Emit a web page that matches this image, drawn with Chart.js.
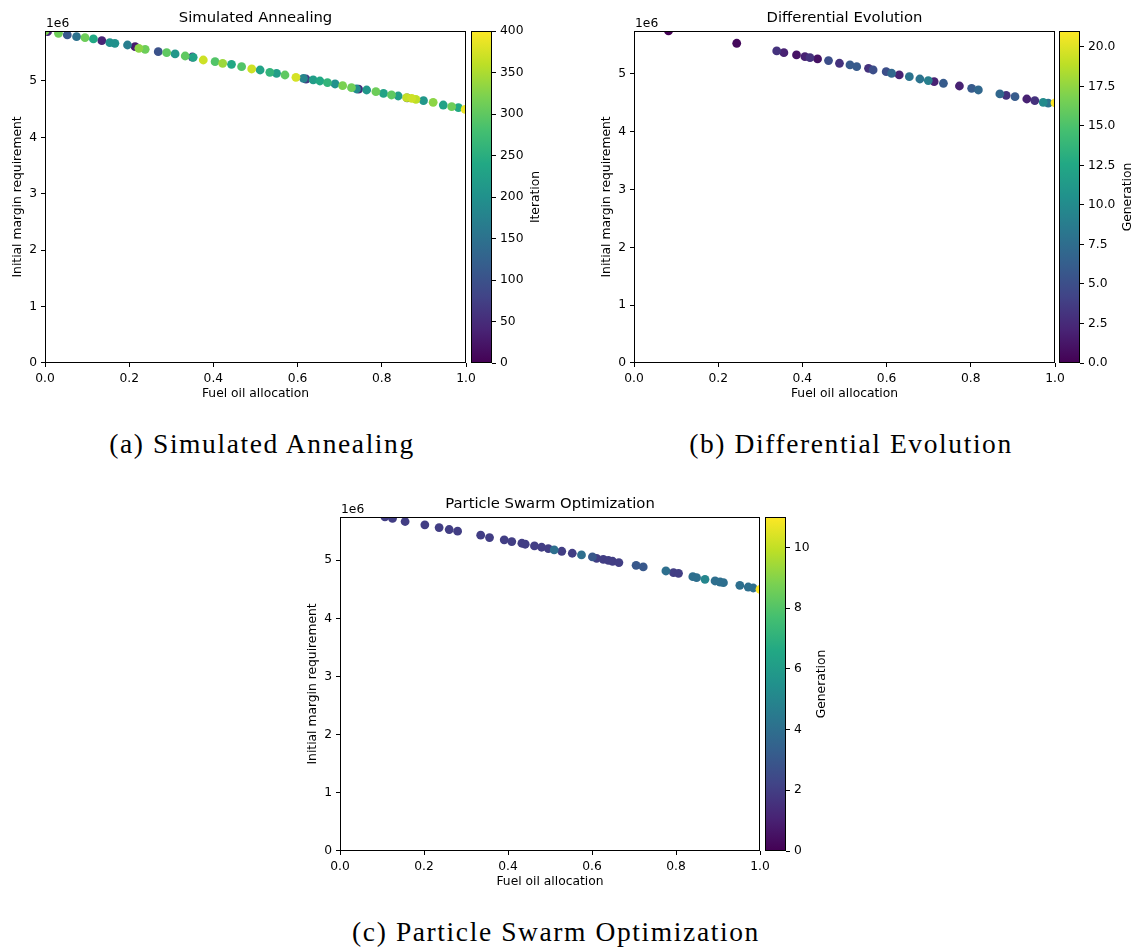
<!DOCTYPE html>
<html>
<head>
<meta charset="utf-8">
<script src="https://cdn.jsdelivr.net/npm/chart.js@4.4.1/dist/chart.umd.min.js"></script>
<style>
  body { margin: 0; background: #fff; width: 1139px; height: 951px; position: relative; overflow: hidden; }
  canvas { position: absolute; }
  .cap { position: absolute; font-family: "Liberation Serif", serif; font-size: 27.5px; line-height: 27px;
         letter-spacing: 1.6px; white-space: nowrap; transform: translateX(-50%); color: #000; }
</style>
</head>
<body>
<canvas id="sa" width="486" height="405" style="left:0px;top:0px"></canvas>
<canvas id="saBar" width="90" height="405" style="left:471px;top:0px"></canvas>
<canvas id="de" width="486" height="405" style="left:589px;top:0px"></canvas>
<canvas id="deBar" width="80" height="405" style="left:1059px;top:0px"></canvas>
<canvas id="pso" width="485" height="407" style="left:295px;top:486px"></canvas>
<canvas id="psoBar" width="80" height="407" style="left:765px;top:486px"></canvas>
<div class="cap" style="left:262px;top:430px">(a) Simulated Annealing</div>
<div class="cap" style="left:851px;top:430px">(b) Differential Evolution</div>
<div class="cap" style="left:556px;top:918px">(c) Particle Swarm Optimization</div>
<script>
// y values are in units of 1e6 (the axis shows the "1e6" offset)

// (a) Simulated Annealing
const saFuel = [0.000, 0.006, 0.032, 0.053, 0.075, 0.095, 0.115, 0.135, 0.154, 0.166, 0.196, 0.214, 0.223, 0.238,
  0.269, 0.289, 0.309, 0.333, 0.350, 0.352, 0.376, 0.404, 0.422, 0.443, 0.467, 0.491, 0.511, 0.534, 0.550, 0.570,
  0.596, 0.614, 0.620, 0.637, 0.653, 0.671, 0.689, 0.707, 0.728, 0.740, 0.745, 0.764, 0.786, 0.804, 0.823, 0.839,
  0.859, 0.860, 0.871, 0.881, 0.899, 0.922, 0.946, 0.966, 0.982, 0.998];
const saMargin = [5.887, 5.875, 5.845, 5.816, 5.786, 5.768, 5.745, 5.715, 5.680, 5.668, 5.638, 5.609, 5.579, 5.561,
  5.520, 5.502, 5.479, 5.443, 5.425, 5.420, 5.372, 5.343, 5.313, 5.296, 5.254, 5.213, 5.195, 5.154, 5.136, 5.106,
  5.065, 5.047, 5.035, 5.018, 5.000, 4.970, 4.947, 4.917, 4.882, 4.858, 4.855, 4.840, 4.811, 4.781, 4.752, 4.734,
  4.705, 4.702, 4.693, 4.675, 4.651, 4.622, 4.574, 4.545, 4.527, 4.498];
const saIter = [320, 40, 310, 110, 150, 310, 240, 40, 200, 200, 170, 30, 330, 310,
  100, 300, 210, 300, 60, 230, 370, 290, 340, 240, 290, 370, 230, 260, 220, 300,
  375, 180, 70, 220, 240, 260, 200, 320, 310, 190, 50, 210, 310, 230, 300, 220,
  365, 90, 370, 360, 210, 330, 230, 310, 240, 390];
const saIterMax = 400;
const saYMax = 5.887;

// (b) Differential Evolution
const deFuel = [0.082, 0.244, 0.339, 0.356, 0.386, 0.406, 0.418, 0.436, 0.462, 0.488, 0.513, 0.529, 0.557, 0.568,
  0.599, 0.612, 0.630, 0.654, 0.679, 0.699, 0.713, 0.735, 0.773, 0.802, 0.818, 0.869, 0.884, 0.905, 0.933, 0.952,
  0.972, 0.984, 1.000];
const deMargin = [5.744, 5.531, 5.398, 5.369, 5.329, 5.300, 5.282, 5.260, 5.231, 5.185, 5.156, 5.127, 5.098, 5.069,
  5.040, 5.012, 4.983, 4.954, 4.913, 4.885, 4.867, 4.839, 4.792, 4.752, 4.723, 4.654, 4.631, 4.608, 4.567, 4.539,
  4.510, 4.495, 4.500];
const deGen = [0, 0.5, 3, 2, 1, 2, 3, 1, 5, 3, 6, 6, 3, 5,
  5, 7, 2, 8, 8, 9, 2, 6, 2, 6, 7, 7, 3, 6, 2, 3,
  10, 8, 21];
const deGenMax = 21;
const deYMax = 5.744;

// (c) Particle Swarm Optimization
const psoFuel = [0.107, 0.125, 0.155, 0.202, 0.236, 0.260, 0.280, 0.335, 0.356, 0.391, 0.409, 0.433, 0.441, 0.463,
  0.480, 0.496, 0.510, 0.528, 0.553, 0.575, 0.601, 0.611, 0.627, 0.639, 0.649, 0.664, 0.705, 0.722, 0.776, 0.794,
  0.806, 0.840, 0.849, 0.869, 0.893, 0.905, 0.913, 0.952, 0.972, 0.984, 1.000];
const psoMargin = [5.745, 5.720, 5.667, 5.609, 5.563, 5.529, 5.500, 5.431, 5.391, 5.351, 5.322, 5.293, 5.276, 5.247,
  5.224, 5.201, 5.178, 5.155, 5.121, 5.092, 5.057, 5.034, 5.017, 5.000, 4.983, 4.960, 4.914, 4.885, 4.816, 4.787,
  4.776, 4.718, 4.700, 4.672, 4.644, 4.626, 4.615, 4.569, 4.540, 4.523, 4.500];
const psoGen = [2, 2, 2, 2, 2, 2, 2, 2, 2, 2, 2, 2, 2, 2,
  2, 2, 4, 2, 2, 4, 3, 2, 2, 2, 2, 2, 3, 3, 4, 2,
  2, 4, 4, 5, 4, 4, 4, 4, 4, 4, 11];
const psoGenMax = 11;
const psoYMax = 5.745;

const VIRIDIS = ['#440154', '#482475', '#414487', '#355f8d', '#2a788e', '#21918c',
  '#22a884', '#44bf70', '#7ad151', '#bddf26', '#fde725'];

function hexRgb(h) {
  return [1, 3, 5].map(k => parseInt(h.slice(k, k + 2), 16));
}

function viridis(t) {
  t = Math.min(1, Math.max(0, t)) * (VIRIDIS.length - 1);
  const i = Math.min(Math.floor(t), VIRIDIS.length - 2);
  const f = t - i;
  const a = hexRgb(VIRIDIS[i]), b = hexRgb(VIRIDIS[i + 1]);
  const c = a.map((v, k) => Math.round(v + (b[k] - v) * f));
  return `rgb(${c[0]},${c[1]},${c[2]})`;
}

Chart.defaults.color = '#000';
Chart.defaults.font.family = '"DejaVu Sans", sans-serif';
const FONT = { family: '"DejaVu Sans", sans-serif', size: 12.3 };

// axes frame, "1e6" offset text and the rotated colorbar label
const framePlugin = {
  id: 'frame',
  afterDraw(chart, args, opts) {
    const { ctx, chartArea: a } = chart;
    ctx.save();
    ctx.strokeStyle = '#000';
    ctx.lineWidth = 1;
    ctx.strokeRect(Math.round(a.left) + 0.5, Math.round(a.top) + 0.5,
      Math.round(a.width) - 1, Math.round(a.height) - 1);
    ctx.fillStyle = '#000';
    ctx.font = '12.3px "DejaVu Sans"';
    if (opts.offset) {
      ctx.textAlign = 'left';
      ctx.textBaseline = 'alphabetic';
      ctx.fillText(opts.offset, a.left + 1, a.top - 4);
    }
    if (opts.label) {
      const ticks = chart.scales.y.ticks;
      let w = 0;
      ticks.forEach(t => { w = Math.max(w, ctx.measureText(t.label).width); });
      ctx.translate(a.right + 8.6 + w + 12, (a.top + a.bottom) / 2);
      ctx.rotate(-Math.PI / 2);
      ctx.textAlign = 'center';
      ctx.textBaseline = 'middle';
      ctx.fillText(opts.label, 0, 0);
    }
    ctx.restore();
  }
};

function scatterPanel(id, title, fuel, margin, value, vmax, ymax, plotW) {
  const canvas = document.getElementById(id);
  // later (higher) iterations are drawn on top
  const order = fuel.map((_, i) => i).sort((i, j) => value[i] - value[j]);
  return new Chart(canvas, {
    type: 'scatter',
    data: {
      datasets: [{
        data: order.map(i => ({ x: fuel[i], y: margin[i] })),
        backgroundColor: order.map(i => viridis(value[i] / vmax)),
        borderWidth: 0,
        pointRadius: 4.4,
        pointHoverRadius: 4.4,
        clip: 0
      }]
    },
    options: {
      responsive: false,
      animation: false,
      events: [],
      layout: { padding: { left: 0, right: canvas.width - 45 - plotW, top: 0, bottom: 0 } },
      plugins: {
        legend: { display: false },
        tooltip: { enabled: false },
        title: {
          display: true, text: title, fullSize: false, color: '#000',
          font: { family: FONT.family, size: 14.8, weight: 'normal' },
          padding: { top: 9, bottom: 4.2 }
        },
        frame: { offset: '1e6' }
      },
      scales: {
        x: {
          type: 'linear', min: 0, max: 1,
          ticks: { stepSize: 0.2, includeBounds: false, maxRotation: 0, autoSkip: false,
                   color: '#000', font: FONT, padding: 4, callback: v => v.toFixed(1) },
          grid: { drawOnChartArea: false, tickLength: 4, color: '#000' },
          border: { display: false },
          title: { display: true, text: 'Fuel oil allocation', color: '#000', font: FONT,
                   padding: { top: 0, bottom: 3.6 } },
          afterFit: s => { s.height = 42; }
        },
        y: {
          type: 'linear', min: 0, max: ymax,
          ticks: { stepSize: 1, includeBounds: false, autoSkip: false,
                   color: '#000', font: FONT, padding: 4, callback: v => v.toFixed(0) },
          grid: { drawOnChartArea: false, tickLength: 4, color: '#000' },
          border: { display: false },
          title: { display: true, text: 'Initial margin requirement', color: '#000', font: FONT,
                   padding: { top: 10.6, bottom: 0 } },
          afterFit: s => { s.width = 45; }
        }
      }
    },
    plugins: [framePlugin]
  });
}

function colorbar(id, vmax, step, digits, label) {
  const canvas = document.getElementById(id);
  return new Chart(canvas, {
    type: 'bar',
    data: {
      labels: [''],
      datasets: [{
        data: [[0, vmax]],
        backgroundColor: c => {
          const a = c.chart.chartArea;
          if (!a) return VIRIDIS[0];
          const g = c.chart.ctx.createLinearGradient(0, a.bottom, 0, a.top);
          VIRIDIS.forEach((col, i) => g.addColorStop(i / (VIRIDIS.length - 1), col));
          return g;
        },
        borderWidth: 0,
        barPercentage: 1,
        categoryPercentage: 1
      }]
    },
    options: {
      responsive: false,
      animation: false,
      events: [],
      layout: { padding: { left: 0, right: 0, top: 31, bottom: 42 } },
      plugins: {
        legend: { display: false },
        tooltip: { enabled: false },
        frame: { label: label }
      },
      scales: {
        x: { display: false },
        y: {
          position: 'right', min: 0, max: vmax,
          ticks: { stepSize: step, includeBounds: false, autoSkip: false,
                   color: '#000', font: FONT, padding: 4, callback: v => v.toFixed(digits) },
          grid: { drawOnChartArea: false, tickLength: 4, color: '#000' },
          border: { display: false },
          afterFit: s => { s.width = canvas.width - 21; }
        }
      }
    },
    plugins: [framePlugin]
  });
}

scatterPanel('sa', 'Simulated Annealing', saFuel, saMargin, saIter, saIterMax, saYMax, 421);
colorbar('saBar', saIterMax, 50, 0, 'Iteration');
scatterPanel('de', 'Differential Evolution', deFuel, deMargin, deGen, deGenMax, deYMax, 421);
colorbar('deBar', deGenMax, 2.5, 1, 'Generation');
scatterPanel('pso', 'Particle Swarm Optimization', psoFuel, psoMargin, psoGen, psoGenMax, psoYMax, 420);
colorbar('psoBar', psoGenMax, 2, 0, 'Generation');
</script>
</body>
</html>
